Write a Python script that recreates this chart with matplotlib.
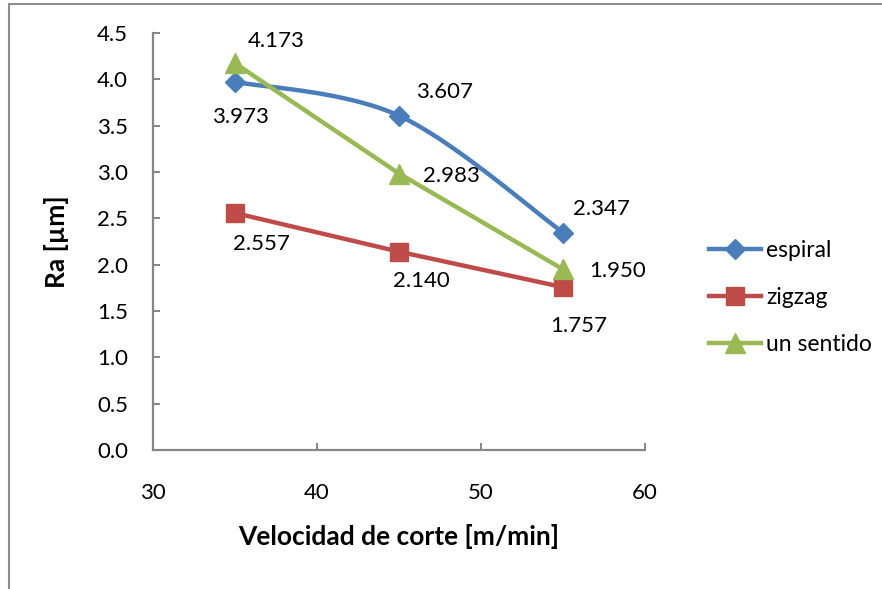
import matplotlib.pyplot as plt
from matplotlib.patches import Rectangle
from matplotlib.lines import Line2D
import numpy as np

plt.rcParams['font.family'] = ['Lato', 'DejaVu Sans']

velocidad = [35, 45, 55]
espiral = [3.973, 3.607, 2.347]
zigzag = [2.557, 2.140, 1.757]
un_sentido = [4.173, 2.983, 1.950]

x_ticks = [30, 40, 50, 60]
y_ticks = [0.0, 0.5, 1.0, 1.5, 2.0, 2.5, 3.0, 3.5, 4.0, 4.5]


def smooth_curve(xs, ys, n=60):
    """Catmull-Rom style smoothing similar to Excel's smoothed line."""
    xs = np.asarray(xs, float)
    ys = np.asarray(ys, float)
    px, py = [], []
    for i in range(len(xs) - 1):
        x0, y0 = (xs[i - 1], ys[i - 1]) if i > 0 else (xs[i], ys[i])
        x1, y1 = xs[i], ys[i]
        x2, y2 = xs[i + 1], ys[i + 1]
        x3, y3 = (xs[i + 2], ys[i + 2]) if i + 2 < len(xs) else (x2, y2)
        c1x, c1y = x1 + (x2 - x0) / 6, y1 + (y2 - y0) / 6
        c2x, c2y = x2 - (x3 - x1) / 6, y2 - (y3 - y1) / 6
        t = np.linspace(0, 1, n)
        bx = (1-t)**3*x1 + 3*(1-t)**2*t*c1x + 3*(1-t)*t**2*c2x + t**3*x2
        by = (1-t)**3*y1 + 3*(1-t)**2*t*c1y + 3*(1-t)*t**2*c2y + t**3*y2
        px.extend(bx)
        py.extend(by)
    return np.array(px), np.array(py)


fig = plt.figure(figsize=(8.82, 5.89), dpi=100)
ax = fig.add_axes([0.1735, 0.236, 0.5578, 0.708])

blue, red, green = "#4a7ebb", "#be4b48", "#98b954"
LW = 3.2
mk = {"espiral": dict(marker="D", ms=10),
      "zigzag": dict(marker="s", ms=12.5),
      "un sentido": dict(marker="^", ms=14)}

sx, sy = smooth_curve(velocidad, espiral)
ax.plot(sx, sy, color=blue, lw=LW, solid_capstyle="round")
ax.plot(velocidad, espiral, ls="none", color=blue, **mk["espiral"])
ax.plot(velocidad, zigzag, color=red, lw=LW, **mk["zigzag"])
ax.plot(velocidad, un_sentido, color=green, lw=LW, **mk["un sentido"])

lab = dict(fontsize=16, color="black", ha="center", va="center",
           textcoords="offset points")
esp_off = [(4, -25), (33, 17), (28, 17)]
zig_off = [(19, -22), (16, -21), (11, -28)]
uns_off = [(30, 16), (38, -2), (39, -1)]
for xs_, ys_, offs in [(velocidad, espiral, esp_off),
                       (velocidad, zigzag, zig_off),
                       (velocidad, un_sentido, uns_off)]:
    for xv, yv, off in zip(xs_, ys_, offs):
        ax.annotate(f"{yv:.3f}", (xv, yv), xytext=off, **lab)

ax.set_xlim(30, 60)
ax.set_ylim(0, 4.5)
ax.set_xticks(x_ticks)
ax.set_yticks(y_ticks)
ax.set_yticklabels([f"{v:.1f}" for v in y_ticks])
for s in ["top", "right"]:
    ax.spines[s].set_visible(False)
for s in ["left", "bottom"]:
    ax.spines[s].set_color("#868686")
    ax.spines[s].set_linewidth(1.6)
ax.tick_params(direction="in", length=5, width=1.4, color="#868686",
               labelsize=16, pad=18)
ax.tick_params(axis="x", pad=24)

ax.set_xlabel("Velocidad de corte [m/min]", fontsize=19, fontweight="bold", labelpad=15)
ax.set_ylabel("Ra [µm]", fontsize=19, fontweight="bold", labelpad=20)

handles = [Line2D([], [], color=blue, lw=LW, **mk["espiral"]),
           Line2D([], [], color=red, lw=LW, **mk["zigzag"]),
           Line2D([], [], color=green, lw=LW, **mk["un sentido"])]
fig.legend(handles, ["espiral", "zigzag", "un sentido"], loc="center left",
           bbox_to_anchor=(0.780, 0.495), frameon=False, fontsize=16.5,
           handlelength=2.3, handletextpad=0.2, labelspacing=1.12)

fig.patches.append(Rectangle((9 / 882, -0.1), 1.2, 1 - 4 / 589 + 0.1,
                             transform=fig.transFigure, fill=False,
                             edgecolor="#8c8c8c", lw=1.5))

fig.savefig("out.png", dpi=100)
